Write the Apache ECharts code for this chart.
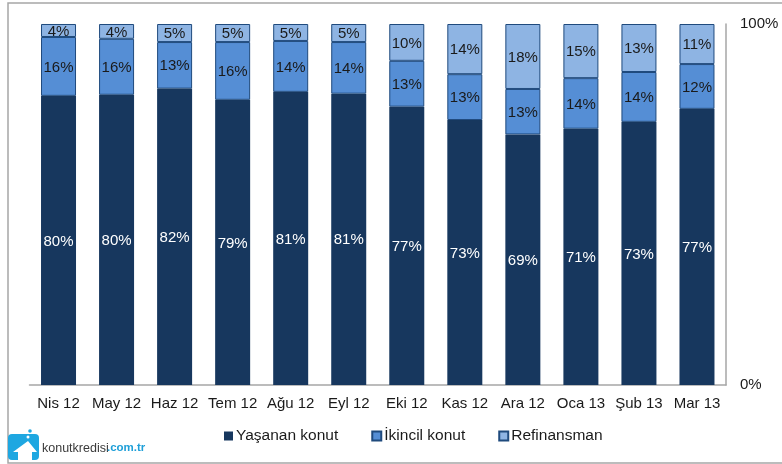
<!DOCTYPE html>
<html><head><meta charset="utf-8">
<style>html,body{margin:0;padding:0;background:#fff}#c{width:782px;height:464px}</style>
<script src="https://cdn.jsdelivr.net/npm/echarts@6/dist/echarts.min.js"></script>
</head><body><div id="c"></div>
<script>
const categories = ['Nis 12','May 12','Haz 12','Tem 12','Ağu 12','Eyl 12','Eki 12','Kas 12','Ara 12','Oca 13','Şub 13','Mar 13'];
const yasanan = [80.1,80.4,82.1,79.0,81.2,80.7,77.1,73.4,69.4,71.0,72.9,76.5];
const ikincil = [16.3,15.5,12.9,16.0,14.1,14.3,12.7,12.7,12.6,14.0,13.8,12.4];
const refinansman = [3.6,4.1,5.0,5.0,4.7,5.0,10.2,13.9,18.0,15.0,13.3,11.1];
const axisTicks = ['0%','100%'];
const font = '"Liberation Sans", Arial, sans-serif';
const ink = '#1a1a1a';
const chart = echarts.init(document.getElementById('c'), null, {renderer:'canvas'});
const pct = p => Math.round(p.value) + '%';
function bar(name, data, color, border, labelColor){
  return {name, type:'bar', stack:'t', data, barWidth:35,
    itemStyle:{color, borderColor:border, borderWidth:border==='transparent'?0:1},
    label:{show:true, position:'inside', offset:[0,1], formatter:pct, color:labelColor, fontFamily:font, fontSize:15}};
}
chart.setOption({
  animation:false,
  backgroundColor:'#fff',
  grid:{left:29.5, right:56, top:24, bottom:79},
  legend:{left:219, top:423, itemWidth:9, itemHeight:9, itemGap:33, icon:'rect',
    textStyle:{fontFamily:font, fontSize:15.5, color:ink, padding:[0,0,0,-2]},
    data:['Yaşanan konut','İkincil konut','Refinansman']},
  xAxis:{type:'category', data:categories, axisTick:{show:false},
    axisLine:{lineStyle:{color:'#a6a6a6', width:1.5}},
    axisLabel:{fontFamily:font, fontSize:15, color:ink, margin:11, interval:0}},
  yAxis:{type:'value', position:'right', min:0, max:100, interval:100,
    splitLine:{show:false}, axisTick:{show:false},
    axisLine:{show:true, lineStyle:{color:'#a6a6a6', width:1.5}},
    axisLabel:{fontFamily:font, fontSize:15, color:ink, margin:14,
      formatter:v => v===0?axisTicks[0]:axisTicks[1]}},
  series:[
    bar('Yaşanan konut', yasanan, '#17375e', 'transparent', '#fff'),
    bar('İkincil konut', ikincil, '#558ed5', '#1f4a7d', ink),
    bar('Refinansman', refinansman, '#8eb4e3', '#1f4a7d', ink)
  ],
  graphic:[
    {type:'rect', z:-1, shape:{x:8,y:3,width:790,height:460}, style:{fill:'none',stroke:'#a6a6a6',lineWidth:1.5}},
    {type:'rect', shape:{x:8,y:434,width:31,height:26,r:4}, style:{fill:'#1ea7e1'}},
    {type:'polygon', shape:{points:[[28,441],[37,452],[32,452],[32,461],[18,461],[18,452],[13,452]]}, style:{fill:'#fff'}},
    {type:'circle', shape:{cx:30,cy:431,r:1.8}, style:{fill:'#1ea7e1'}},
    {type:'circle', shape:{cx:28,cy:437,r:1.5}, style:{fill:'#fff'}},
    {type:'text', x:42, y:442, style:{text:'konutkredisi', fontFamily:font, fontSize:12.5, fill:'#3a3a3a'}},
    {type:'text', x:107, y:442, style:{text:'.com.tr', fontFamily:font, fontSize:11.5, fontWeight:'bold', fill:'#1e9fd8'}}
  ]
});
</script></body></html>
